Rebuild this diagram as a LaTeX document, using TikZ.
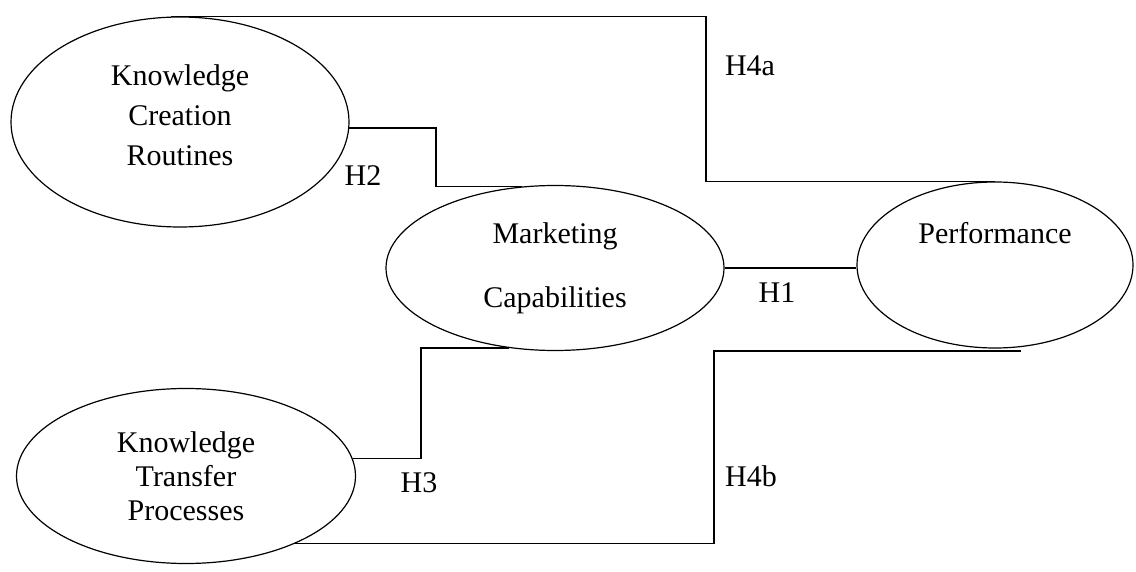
\documentclass[tikz,border=0pt]{standalone}
\usepackage{fontspec}
\setmainfont{Liberation Serif}
\usetikzlibrary{shapes.geometric}

\begin{document}
\begin{tikzpicture}[scale=0.5,
  construct/.style={ellipse, draw=black, line width=0.6pt, inner sep=0pt, align=center, font=\fontsize{15}{20}\selectfont},
  hyp/.style={inner sep=0pt, font=\fontsize{15}{18}\selectfont},
  link/.style={line width=0.6pt, color=black}]
\useasboundingbox (0pt,0pt) rectangle (1136pt,-572pt);
\node (KCR) [construct, minimum width=169pt, minimum height=105pt] at (180pt, -122pt) {Knowledge\\Creation\\Routines\\[-13pt]\mbox{}};
\node (MC) [construct, minimum width=169pt, minimum height=82.5pt] at (555pt, -268pt) {Marketing\\[12pt]Capabilities};
\node (Perf) [construct, minimum width=138pt, minimum height=83pt] at (995pt, -265pt) {Performance\\[12pt]\mbox{}};
\node (KTP) [construct, minimum width=169.5pt, minimum height=87.5pt, font=\fontsize{15}{17}\selectfont] at (186pt, -476pt) {Knowledge\\Transfer\\Processes};
\coordinate (H2bend) at (436pt, -150pt);
\coordinate (H3bend) at (421pt, -400pt);
\coordinate (H4abend) at (706pt, -100pt);
\coordinate (H4bbend) at (714pt, -450pt);
\coordinate (H4bend) at (1021pt, -351pt);
\draw [link] (MC.east) -- (MC.east -| Perf.west);
\draw [link] (KCR.-2) -| (H2bend) |- (MC.112);
\draw [link] (KTP.6) -| (H3bend) |- (MC.240);
\draw [link] (KCR.95) -| (H4abend) |- (Perf.north);
\draw [link] (KTP.-32) -| (H4bbend) |- (H4bend);
\node (H1) [hyp] at (777pt, -293pt) {H1};
\node (H2) [hyp] at (363pt, -176pt) {H2};
\node (H3) [hyp] at (419pt, -483pt) {H3};
\node (H4a) [hyp] at (750pt, -66pt) {H4a};
\node (H4b) [hyp] at (751pt, -476pt) {H4b};
\end{tikzpicture}
\end{document}
